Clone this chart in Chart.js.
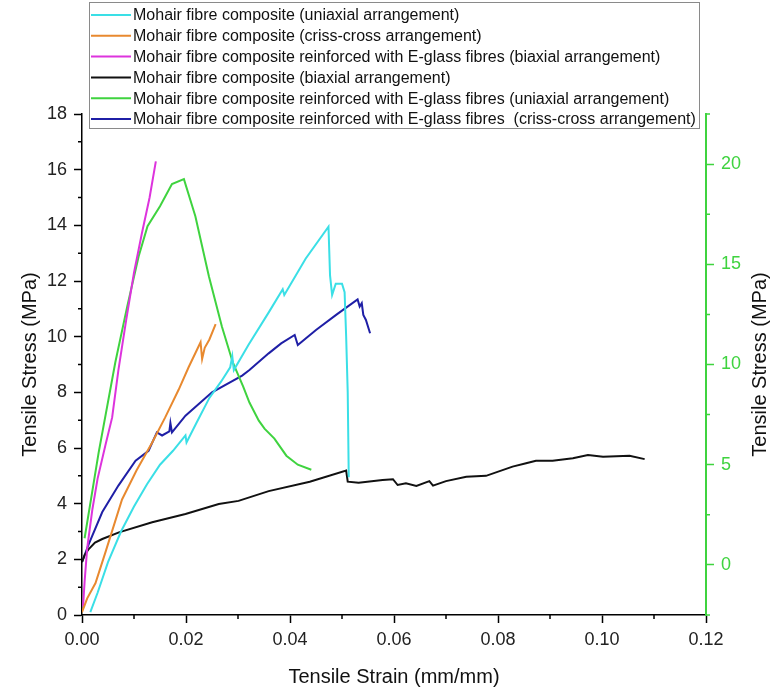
<!DOCTYPE html>
<html>
<head>
<meta charset="utf-8">
<title>Tensile stress vs strain</title>
<script src="https://cdn.jsdelivr.net/npm/chart.js@4.4.1/dist/chart.umd.min.js"></script>
<style>
  html, body { margin:0; padding:0; background:#fff; }
  #wrap { width:771px; height:691px; }
</style>
</head>
<body>
<div id="wrap"><canvas id="c" width="771" height="691"></canvas></div>
<script>
/* ── data ────────────────────────────────────────────── */
const seriesLabels = [
  'Mohair fibre composite (uniaxial arrangement)',
  'Mohair fibre composite (criss-cross arrangement)',
  'Mohair fibre composite reinforced with E-glass fibres (biaxial arrangement)',
  'Mohair fibre composite (biaxial arrangement)',
  'Mohair fibre composite reinforced with E-glass fibres (uniaxial arrangement)',
  'Mohair fibre composite reinforced with E-glass fibres  (criss-cross arrangement)'
];

const cyanStrain = [0.0016,0.003,0.005,0.0075,0.010,0.0125,0.015,0.0175,0.0199,0.0201,0.022,0.0245,0.0268,0.0285,0.0289,0.0292,0.032,0.036,0.0386,0.0389,0.043,0.0474,0.0477,0.0481,0.0488,0.0500,0.0505,0.0508,0.0511,0.0513];
const cyanStress = [0.1,0.8,1.9,3.0,3.9,4.7,5.4,5.9,6.45,6.2,6.9,7.8,8.4,8.9,9.3,8.8,9.7,10.9,11.7,11.5,12.8,13.95,12.2,11.5,11.9,11.9,11.6,10.0,8.0,4.95];

const orangeStrain = [0,0.001,0.0026,0.0045,0.0077,0.0105,0.0135,0.016,0.0186,0.0205,0.0228,0.0231,0.0236,0.0245,0.0257];
const orangeStress = [0.1,0.6,1.15,2.25,4.15,5.2,6.2,7.1,8.1,8.9,9.8,9.2,9.6,9.9,10.45];

const magentaStrain = [0.0002,0.0005,0.001,0.002,0.003,0.0045,0.0058,0.007,0.0085,0.010,0.0115,0.013,0.0142];
const magentaStress = [0.3,1.2,2.4,3.8,4.9,6.1,7.1,8.8,10.6,12.3,13.7,15.0,16.3];

const blackStrain = [0,0.0005,0.0013,0.0025,0.0039,0.0071,0.0135,0.0199,0.0263,0.0301,0.0359,0.0438,0.0508,0.0511,0.0532,0.0578,0.0598,0.0607,0.0623,0.0643,0.0668,0.0675,0.0700,0.0739,0.0777,0.0828,0.0854,0.0873,0.0905,0.0944,0.0973,0.1002,0.1053,0.1082];
const blackStress = [1.9,2.15,2.37,2.6,2.73,2.97,3.33,3.63,3.99,4.1,4.45,4.79,5.19,4.79,4.75,4.85,4.88,4.67,4.73,4.64,4.81,4.65,4.81,4.97,5.0,5.33,5.45,5.54,5.54,5.63,5.75,5.69,5.72,5.6];

/* green curve is read against the right-hand axis */
const greenStrain = [0.0005,0.0032,0.0064,0.0087,0.0109,0.0126,0.0150,0.0173,0.0196,0.0218,0.0244,0.0269,0.0290,0.0310,0.0322,0.0340,0.0351,0.0370,0.0393,0.0415,0.0441];
const greenStress = [1.33,5.6,10.1,12.9,15.4,16.9,17.9,19.0,19.25,17.4,14.4,11.9,10.1,8.9,8.1,7.2,6.8,6.3,5.45,5.0,4.75];

const blueStrain = [0,0.0013,0.0039,0.0070,0.0103,0.0128,0.0144,0.0154,0.0168,0.0170,0.0173,0.0199,0.025,0.0308,0.0322,0.0359,0.0383,0.0409,0.0415,0.045,0.049,0.053,0.0534,0.0538,0.0541,0.0546,0.0554];
const blueStress = [1.9,2.55,3.7,4.65,5.54,5.9,6.56,6.45,6.6,6.9,6.56,7.16,8.0,8.6,8.8,9.4,9.76,10.06,9.7,10.24,10.8,11.34,11.08,11.2,10.78,10.6,10.12];

const xTicks  = [0,0.02,0.04,0.06,0.08,0.10,0.12];
const xMinor  = [0.01,0.03,0.05,0.07,0.09,0.11];
const yTicks  = [0,2,4,6,8,10,12,14,16,18];
const yMinor  = [1,3,5,7,9,11,13,15,17];
const y2Ticks = [0,5,10,15,20];
const y2Minor = [-2.5,2.5,7.5,12.5,17.5,22.5];

const GREEN = '#3fd33f';
const FONT = '"Liberation Sans", Arial, sans-serif';

const pts = (xs, ys) => xs.map((x,i) => ({x, y:ys[i]}));
const line = (label, xs, ys, color, axis) => ({
  label, data: pts(xs, ys), borderColor: color, backgroundColor: color,
  showLine: true, pointRadius: 0, borderWidth: 2, tension: 0, yAxisID: axis || 'y'
});

/* ── minor ticks, axis titles, boxed legend ───────────── */
const extras = {
  id: 'extras',
  beforeDraw(chart) {
    const ctx = chart.ctx;
    ctx.save(); ctx.fillStyle = '#fff'; ctx.fillRect(0,0,chart.width,chart.height); ctx.restore();
  },
  afterDraw(chart) {
    const ctx = chart.ctx, a = chart.chartArea;
    const { x, y, y2 } = chart.scales;
    ctx.save();
    ctx.lineWidth = 1.5;
    ctx.strokeStyle = '#000';
    ctx.beginPath();
    xMinor.forEach(v => { const p = x.getPixelForValue(v); ctx.moveTo(p, a.bottom); ctx.lineTo(p, a.bottom + 4); });
    yMinor.forEach(v => { const p = y.getPixelForValue(v); ctx.moveTo(a.left, p); ctx.lineTo(a.left - 4, p); });
    ctx.stroke();
    ctx.strokeStyle = GREEN;
    ctx.beginPath();
    y2Minor.forEach(v => { const p = y2.getPixelForValue(v); ctx.moveTo(a.right, p); ctx.lineTo(a.right + 4, p); });
    ctx.stroke();

    /* axis titles */
    ctx.font = '20px ' + FONT;
    ctx.fillStyle = '#111';
    ctx.textAlign = 'center'; ctx.textBaseline = 'middle';
    ctx.fillText('Tensile Strain (mm/mm)', (a.left + a.right) / 2, 677);
    ctx.save(); ctx.translate(30, (a.top + a.bottom) / 2); ctx.rotate(-Math.PI/2);
    ctx.fillText('Tensile Stress (MPa)', 0, 0); ctx.restore();
    ctx.save(); ctx.translate(760, (a.top + a.bottom) / 2); ctx.rotate(-Math.PI/2);
    ctx.fillText('Tensile Stress (MPa)', 0, 0); ctx.restore();

    /* legend box */
    const bx = 89, by = 2, bw = 610, bh = 126;
    ctx.fillStyle = '#fff'; ctx.fillRect(bx, by, bw, bh);
    ctx.strokeStyle = '#8a8a8a'; ctx.lineWidth = 1;
    ctx.strokeRect(bx + 0.5, by + 0.5, bw, bh);
    ctx.font = '16px ' + FONT;
    ctx.textAlign = 'left';
    chart.data.datasets.forEach((ds, i) => {
      const ry = by + 13 + i * 20.8;
      ctx.strokeStyle = ds.borderColor; ctx.lineWidth = 2;
      ctx.beginPath(); ctx.moveTo(bx + 2, ry); ctx.lineTo(bx + 42, ry); ctx.stroke();
      ctx.fillStyle = '#111';
      ctx.fillText(ds.label, bx + 44, ry + 1);
    });
    ctx.restore();
  }
};

new Chart(document.getElementById('c'), {
  type: 'scatter',
  data: {
    datasets: [
      line(seriesLabels[0], cyanStrain, cyanStress, '#3adfe6'),
      line(seriesLabels[1], orangeStrain, orangeStress, '#e8892f'),
      line(seriesLabels[2], magentaStrain, magentaStress, '#dd33dd'),
      line(seriesLabels[3], blackStrain, blackStress, '#111111'),
      line(seriesLabels[4], greenStrain, greenStress, GREEN, 'y2'),
      line(seriesLabels[5], blueStrain, blueStress, '#1f1fa6')
    ]
  },
  options: {
    responsive: false,
    animation: false,
    devicePixelRatio: 1,
    layout: { padding: { top: 114, left: 0, right: 0, bottom: 0 } },
    plugins: { legend: { display: false }, tooltip: { enabled: false } },
    scales: {
      x: {
        type: 'linear', position: 'bottom', min: 0, max: 0.12,
        afterFit: s => { s.height = 76; },
        afterBuildTicks: s => { s.ticks = xTicks.map(v => ({ value: v })); },
        ticks: { callback: v => v.toFixed(2), color: '#222', font: { family: FONT, size: 18 }, padding: 6, maxRotation: 0, autoSkip: false },
        grid: { drawOnChartArea: false, tickLength: 8, tickColor: '#000', tickWidth: 1.5 },
        border: { color: '#000', width: 1.5 }
      },
      y: {
        type: 'linear', position: 'left', min: 0, max: 18,
        afterFit: s => { s.width = 82; },
        afterBuildTicks: s => { s.ticks = yTicks.map(v => ({ value: v })); },
        ticks: { color: '#222', font: { family: FONT, size: 18 }, padding: 7 },
        grid: { drawOnChartArea: false, tickLength: 8, tickColor: '#000', tickWidth: 1.5 },
        border: { color: '#000', width: 1.5 }
      },
      y2: {
        type: 'linear', position: 'right', min: -2.5, max: 22.5,
        afterFit: s => { s.width = 65; },
        afterBuildTicks: s => { s.ticks = y2Ticks.map(v => ({ value: v })); },
        ticks: { color: GREEN, font: { family: FONT, size: 18 }, padding: 7 },
        grid: { drawOnChartArea: false, tickLength: 8, tickColor: GREEN, tickWidth: 1.5 },
        border: { color: GREEN, width: 2 }
      }
    }
  },
  plugins: [extras]
});
</script>
</body>
</html>
